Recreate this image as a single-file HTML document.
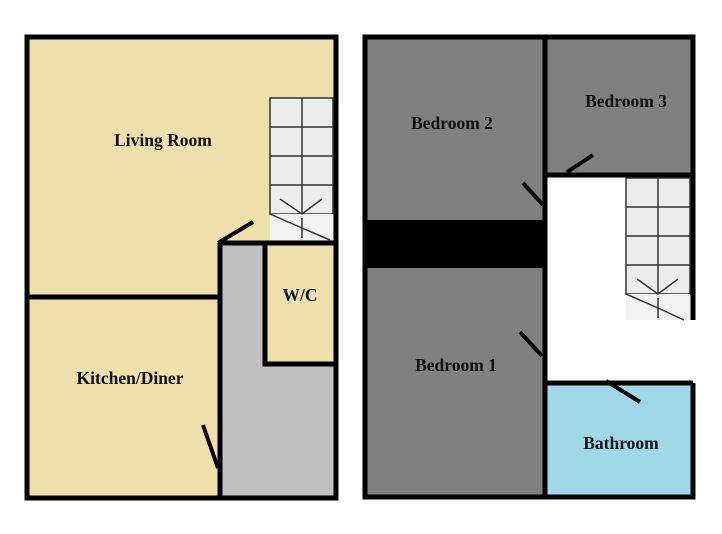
<!DOCTYPE html>
<html><head><style>body{margin:0;background:#fff}svg{display:block}text{font-family:"Liberation Serif",serif;font-weight:bold;font-size:17.5px;fill:#111}</style></head>
<body>
<svg width="722" height="534" viewBox="0 0 722 534">
<!-- LEFT -->
<rect x="27" y="37" width="309" height="461" fill="#ede0ad"/>
<rect x="220" y="243" width="116" height="255" fill="#c1c1c1"/>
<rect x="265" y="243" width="71" height="121" fill="#ede0ad"/>
<g stroke="#000" stroke-width="5" fill="none">
<rect x="27" y="37" width="309" height="461"/>
<line x1="27" y1="297" x2="222" y2="297"/>
<line x1="220" y1="243" x2="220" y2="498"/>
<line x1="218" y1="243" x2="336" y2="243"/>
<rect x="265" y="243" width="71" height="121"/>
<line x1="218" y1="243" x2="253" y2="222" stroke-width="4"/>
<line x1="203" y1="425" x2="218" y2="468" stroke-width="4"/>
</g>
<g stroke="#333" stroke-width="1.5">
<rect x="270" y="98" width="63" height="116" fill="#ececec"/>
<rect x="270" y="214" width="63" height="26" fill="#f2f2f2" stroke="none"/>
<line x1="302" y1="98" x2="302" y2="214"/>
<line x1="270" y1="127" x2="333" y2="127"/><line x1="270" y1="156" x2="333" y2="156"/><line x1="270" y1="185" x2="333" y2="185"/>
<polyline points="280,199 302,214 322,199" fill="none"/>
<polyline points="270,214 302,228 330,240" fill="none"/>
<line x1="302" y1="218" x2="302" y2="238"/>
</g>
<text x="163" y="146" text-anchor="middle">Living Room</text>
<text x="300" y="301" text-anchor="middle">W/C</text>
<text x="130" y="384" text-anchor="middle">Kitchen/Diner</text>
<!-- RIGHT -->
<rect x="365" y="37" width="180" height="460" fill="#808080"/>
<rect x="365" y="220" width="180" height="48" fill="#000"/>
<rect x="545" y="37" width="148" height="138" fill="#808080"/>
<rect x="545" y="175" width="148" height="208" fill="#fff"/>
<rect x="545" y="383" width="148" height="114" fill="#a0d8e9"/>
<g stroke="#000" stroke-width="5" fill="none">
<polyline points="693,320 693,37 365,37 365,497 693,497 693,383"/>
<line x1="545" y1="37" x2="545" y2="497"/>
<line x1="545" y1="175" x2="693" y2="175"/>
<line x1="545" y1="383" x2="693" y2="383"/>
<line x1="567" y1="172" x2="593" y2="155" stroke-width="4"/>
<line x1="523" y1="183" x2="543" y2="205" stroke-width="4"/>
<line x1="520" y1="332" x2="542" y2="356" stroke-width="4"/>
<line x1="606" y1="381" x2="640" y2="402" stroke-width="4"/>
</g>
<g stroke="#333" stroke-width="1.5">
<rect x="626" y="178" width="64" height="116" fill="#ececec"/>
<rect x="626" y="294" width="64" height="26" fill="#f2f2f2" stroke="none"/>
<line x1="658" y1="178" x2="658" y2="294"/>
<line x1="626" y1="207" x2="690" y2="207"/><line x1="626" y1="236" x2="690" y2="236"/><line x1="626" y1="265" x2="690" y2="265"/>
<polyline points="637,279 658,294 678,279" fill="none"/>
<polyline points="626,294 658,308 684,320" fill="none"/>
<line x1="658" y1="298" x2="658" y2="318"/>
</g>
<text x="452" y="129" text-anchor="middle">Bedroom 2</text>
<text x="626" y="107" text-anchor="middle">Bedroom 3</text>
<text x="456" y="371" text-anchor="middle">Bedroom 1</text>
<text x="621" y="449" text-anchor="middle">Bathroom</text>
</svg>
</body></html>
